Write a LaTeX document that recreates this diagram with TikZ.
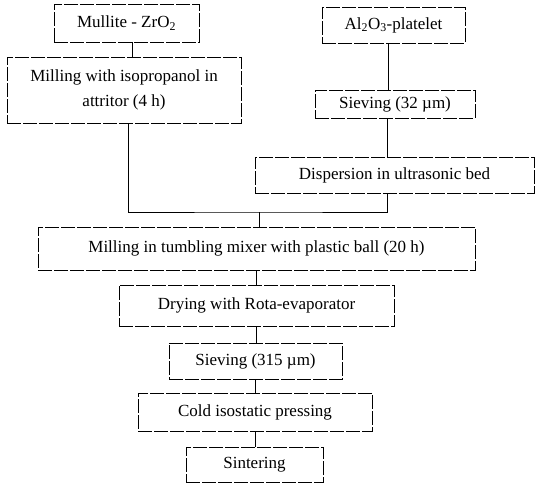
\documentclass[tikz,border=0pt]{standalone}
\usepackage{fontspec}
\setmainfont{Liberation Serif}
\tikzset{
  stepbox/.style={draw, line width=0.8pt, dash pattern=on 14pt off 2pt,
    inner sep=0pt, align=center, font=\fontsize{17}{25}\selectfont},
  flow/.style={line width=1pt}
}

\begin{document}
\begin{tikzpicture}[x=1pt, y=-1pt]
\useasboundingbox (0,0) rectangle (536,483);
% Starting powders
\node[stepbox, minimum width=145pt, minimum height=38pt] (mullite) at (126.5,23) {Mullite - ZrO\textsubscript{2}};
\node[stepbox, minimum width=143pt, minimum height=36pt] (alumina) at (393.5,25) {Al\textsubscript{2}O\textsubscript{3}-platelet};
% Two separate lines
\node[stepbox, minimum width=234pt, minimum height=66pt] (attritor) at (124,90) {Milling with isopropanol in\\attritor (4 h)};
\node[stepbox, minimum width=160pt, minimum height=28pt] (sieve32) at (395,104) {Sieving (32 µm)};
\node[stepbox, minimum width=279pt, minimum height=36pt] (dispersion) at (394.5,175) {Dispersion in ultrasonic bed};
% Common line
\node[stepbox, minimum width=437pt, minimum height=43pt] (tumbling) at (256.5,248.5) {Milling in tumbling mixer with plastic ball (20 h)};
\node[stepbox, minimum width=275pt, minimum height=41pt] (drying) at (256.5,305.5) {Drying with Rota-evaporator};
\node[stepbox, minimum width=173pt, minimum height=36pt] (sieve315) at (255.5,361) {Sieving (315 µm)};
\node[stepbox, minimum width=234pt, minimum height=38pt] (cip) at (255,412) {Cold isostatic pressing};
\node[stepbox, minimum width=137pt, minimum height=35pt] (sintering) at (254.5,464.5) {Sintering};

\coordinate (join) at (259,212);
\draw[flow] ([xshift=6pt]mullite.south) -- ([xshift=6pt]mullite.south |- attritor.north);
\draw[flow] ([xshift=-5pt]alumina.south) -- ([xshift=-5pt]alumina.south |- sieve32.north);
\draw[flow] ([xshift=-8pt]sieve32.south) -- ([xshift=-8pt]sieve32.south |- dispersion.north);
\draw[flow] ([xshift=4pt]attritor.south) |- (join) -| ([xshift=-7pt]dispersion.south);
\draw[flow] (join) -- (join |- tumbling.north);
\foreach \a/\b in {tumbling/drying, drying/sieve315, sieve315/cip, cip/sintering}
  \draw[flow] (\a.south) -- (\a.south |- \b.north);
\end{tikzpicture}
\end{document}
